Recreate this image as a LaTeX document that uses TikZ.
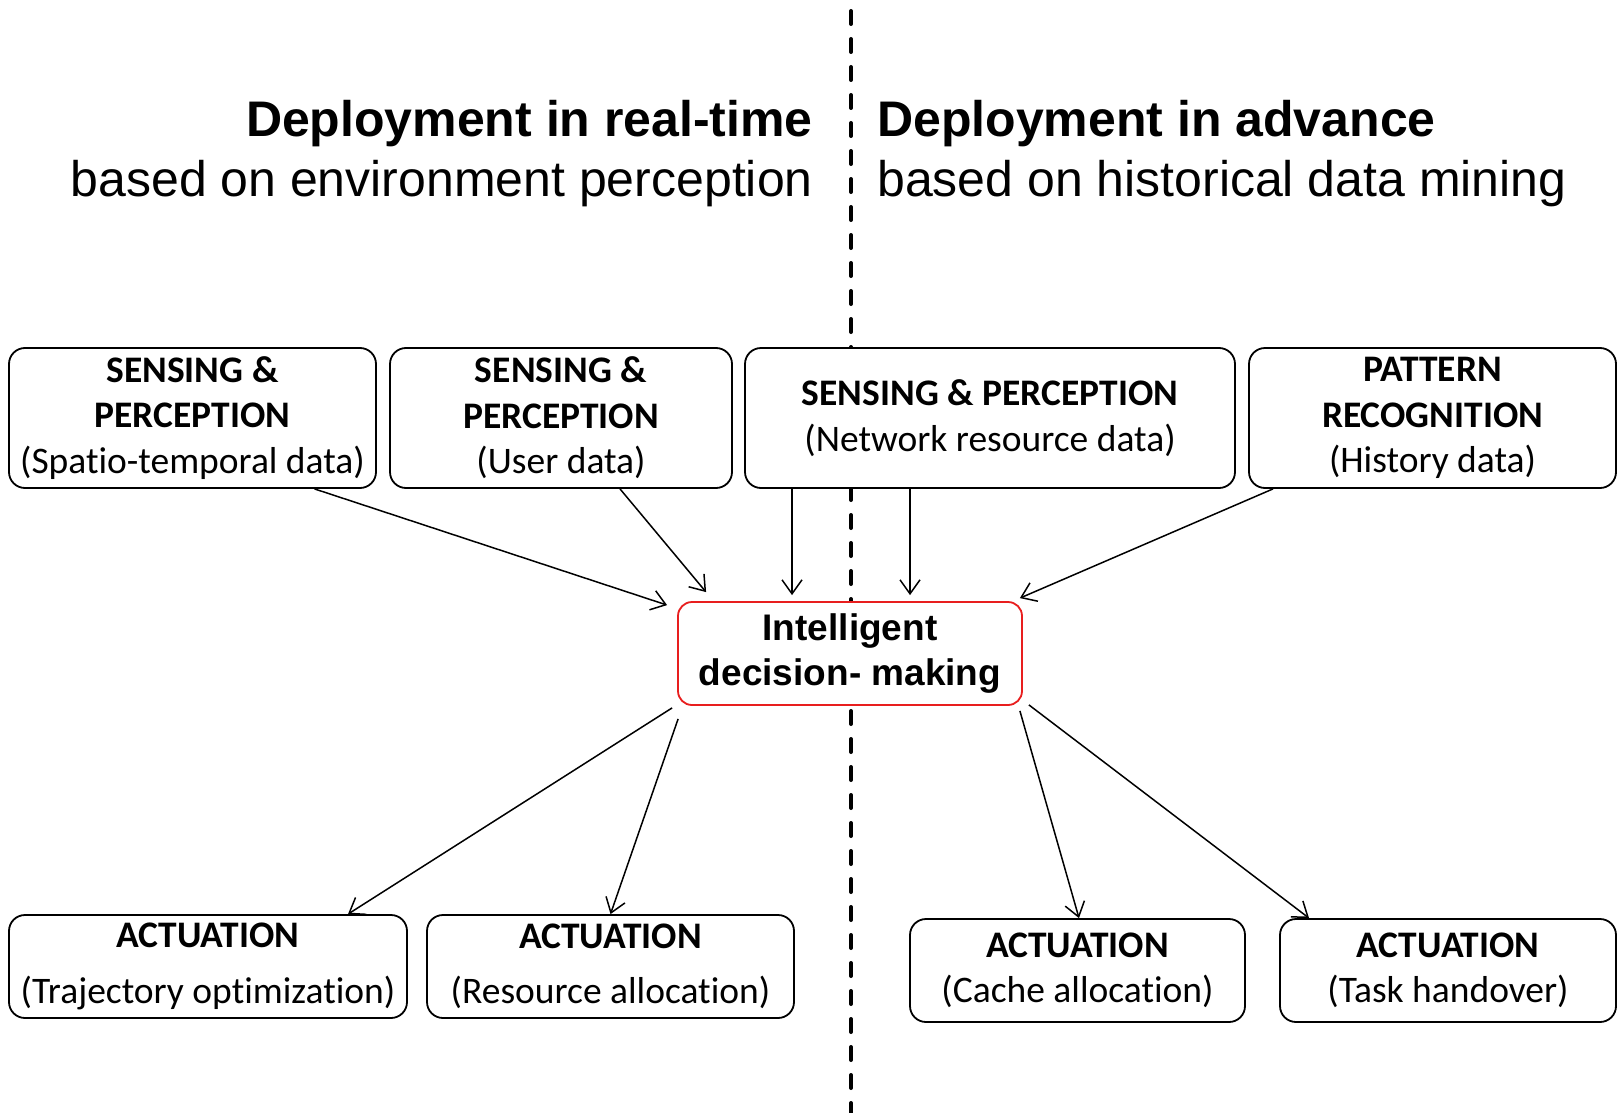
\documentclass[tikz,border=0pt]{standalone}
\usepackage{fontspec}
\setmainfont{Liberation Sans}
\newfontfamily\calibrifont[Ligatures=NoCommon]{Carlito}
\newcommand{\nolig}{\kern0pt }
\usetikzlibrary{arrows.meta,calc}
\definecolor{boxred}{RGB}{232,30,30}
\tikzset{
  infobox/.style={draw=black, line width=1.8pt, rounded corners=16pt, fill=white,
    align=center, inner sep=0pt, font=\calibrifont\fontsize{37.5}{45.5}\selectfont},
  decbox/.style={draw=boxred, line width=1.8pt, rounded corners=14pt, fill=white,
    align=center, inner sep=0pt, font=\bfseries\fontsize{37}{45.5}\selectfont},
  conn/.style={line width=1.5pt, -{Straight Barb[length=14pt,width=20pt,line width=1.5pt]}},
  titlebold/.style={inner sep=0pt, font=\bfseries\fontsize{50}{60}\selectfont},
  titlereg/.style={inner sep=0pt, font=\fontsize{50}{60}\selectfont},
  divider/.style={line width=4pt, dash pattern=on 13pt off 15pt, line cap=round}
}
\begin{document}
\begin{tikzpicture}[x=1pt,y=-1pt]
\useasboundingbox (0,0) rectangle (1619,1113);
% divider
\coordinate (dtop) at (851,11);
\coordinate (dbot) at (851,1113);
\draw[divider] (dtop) -- (dbot);
% titles
\node[titlebold, anchor=base east] (tl1) at (813,136) {Deployment in real-time};
\node[titlereg, anchor=base east] (tl2) at (813,196) {based on environment perception};
\node[titlebold, anchor=base west] (tr1) at (877,136) {Deployment in advance};
\node[titlereg, anchor=base west] (tr2) at (877,196) {based on historical data mining};
% top boxes
\node[infobox, minimum width=367pt, minimum height=140pt] (A1) at (192.5,418)
  {\textbf{SENSING \&}\\\textbf{PERCEPTION}\\(Spat\nolig io-temporal data)};
\node[infobox, minimum width=342pt, minimum height=140pt] (A2) at (561,418)
  {\textbf{SENSING \&}\\\textbf{PERCEPTION}\\(User data)};
\node[infobox, minimum width=490pt, minimum height=140pt] (A3) at (990,418)
  {\textbf{SENSING \& PERCEPTION}\\(Network resource data)};
\node[infobox, minimum width=367pt, minimum height=140pt] (A4) at (1432.5,418)
  {\textbf{PATTERN}\\\textbf{RECOGNITION}\\(History data)};
% center
\node[decbox, minimum width=344pt, minimum height=103pt] (C) at (850,653.5)
  {Intelligent\\decision- making};
% bottom boxes
\node[infobox, minimum width=398pt, minimum height=103pt] (B1) at (208,966.5)
  {\textbf{ACTUATION}\\[10pt](Trajectory opt\nolig imizat\nolig ion)};
\node[infobox, minimum width=367pt, minimum height=103pt] (B2) at (610.5,966.5)
  {\textbf{ACTUATION}\\[10pt](Resource allocat\nolig ion)};
\node[infobox, minimum width=335pt, minimum height=103pt] (B3) at (1077.5,970.5)
  {\textbf{ACTUATION}\\(Cache allocat\nolig ion)};
\node[infobox, minimum width=336pt, minimum height=103pt] (B4) at (1448,970.5)
  {\textbf{ACTUATION}\\(Task handover)};
% connectors in
\draw[conn] ([xshift=122pt]A1.south) -- ([xshift=-10pt,yshift=-4pt]C.north west);
\draw[conn] ([xshift=59pt]A2.south) -- ([xshift=29pt,yshift=9pt]C.north west);
\draw[conn] ([xshift=-198pt]A3.south) -- ([xshift=-58pt,yshift=6pt]C.north);
\draw[conn] ([xshift=-80pt]A3.south) -- ([xshift=60pt,yshift=6pt]C.north);
\draw[conn] ([xshift=-159.5pt]A4.south) -- ([xshift=-3pt,yshift=3pt]C.north east);
% connectors out
\draw[conn] ([xshift=-5pt,yshift=-2pt]C.south west) -- ([xshift=140pt]B1.north);
\draw[conn] ([xshift=1pt,yshift=-13pt]C.south west) -- (B2.north);
\draw[conn] ([xshift=-3pt,yshift=-5pt]C.south east) -- ([xshift=1.5pt]B3.north);
\draw[conn] ([xshift=6pt,yshift=1pt]C.south east) -- ([xshift=-139pt]B4.north);
\end{tikzpicture}
\end{document}
